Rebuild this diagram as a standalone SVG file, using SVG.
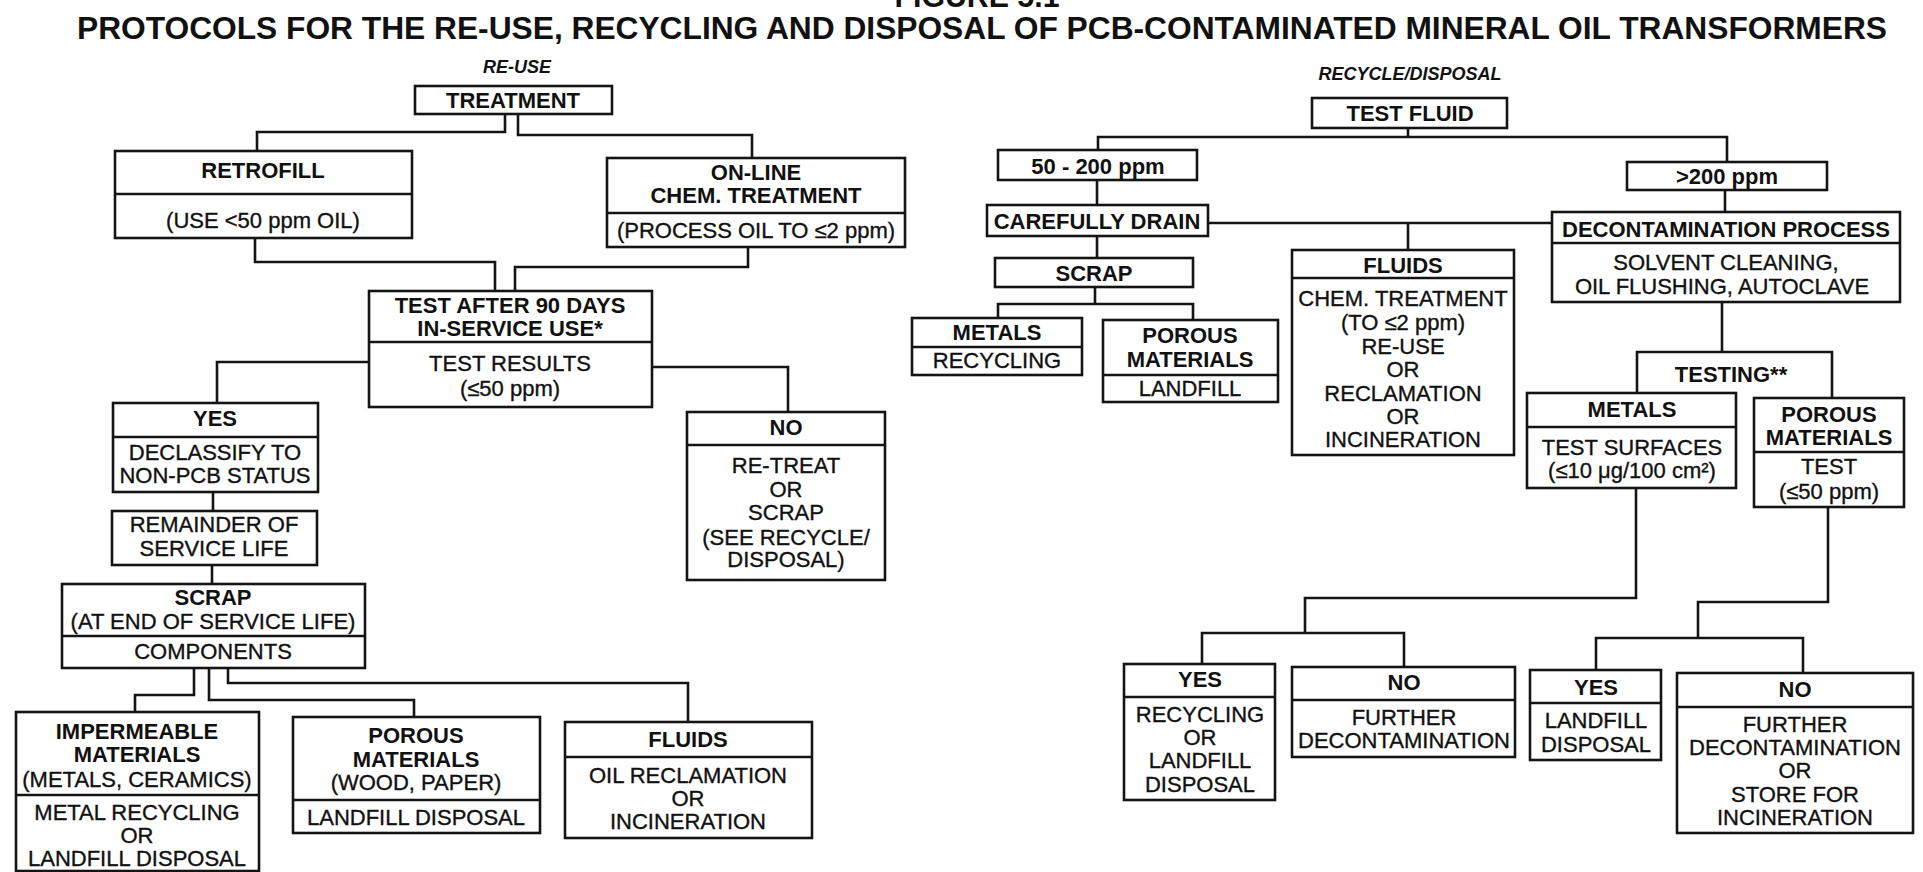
<svg xmlns="http://www.w3.org/2000/svg" width="1923" height="872" viewBox="0 0 1923 872">
<style>
.bx{fill:#fff;stroke:#141414;stroke-width:2.6}
.dv{stroke:#141414;stroke-width:2.6}
.cn{fill:none;stroke:#141414;stroke-width:2.6}
text{font-family:"Liberation Sans",Arial,Helvetica,sans-serif;fill:#111;text-anchor:middle}
.h{font-size:22px;font-weight:bold}
.t{font-size:22px;stroke:#111;stroke-width:0.35}
.lab{font-size:18px;font-weight:bold;font-style:italic}
.ttl{font-size:31px;font-weight:bold}
</style>
<rect width="1923" height="872" fill="#fff"/>
<g id="title">
<text class="ttl" x="977" y="7" textLength="165" lengthAdjust="spacingAndGlyphs">FIGURE 5.1</text>
<text class="ttl" x="982" y="39" textLength="1810" lengthAdjust="spacingAndGlyphs">PROTOCOLS FOR THE RE-USE, RECYCLING AND DISPOSAL OF PCB-CONTAMINATED MINERAL OIL TRANSFORMERS</text>
<text class="lab" x="517" y="73">RE-USE</text>
<text class="lab" x="1410" y="80">RECYCLE/DISPOSAL</text>
</g>
<g id="connectors">
<path class="cn" d="M505,114V132H257V151"/>
<path class="cn" d="M518,114V135H752V158"/>
<path class="cn" d="M255,238V262H495V291"/>
<path class="cn" d="M748,247V267H515V291"/>
<path class="cn" d="M369,362H217V403"/>
<path class="cn" d="M652,367H788V412"/>
<path class="cn" d="M213,492V511"/>
<path class="cn" d="M212,565V584"/>
<path class="cn" d="M194,668V695H135V712"/>
<path class="cn" d="M209,668V700H414V717"/>
<path class="cn" d="M228,668V683H688V722"/>
<path class="cn" d="M1408,128V137"/>
<path class="cn" d="M1098,150V137H1727V162"/>
<path class="cn" d="M1097,180V205"/>
<path class="cn" d="M1725,190V212"/>
<path class="cn" d="M1208,223H1552"/>
<path class="cn" d="M1408,223V250"/>
<path class="cn" d="M1097,236V258"/>
<path class="cn" d="M1095,287V304"/>
<path class="cn" d="M998,318V304H1193V320"/>
<path class="cn" d="M1722,302V352"/>
<path class="cn" d="M1636,488V598H1305V633"/>
<path class="cn" d="M1202,664V633H1404V667"/>
<path class="cn" d="M1828,507V602H1698V638"/>
<path class="cn" d="M1596,670V638H1803V673"/>
</g>
<g id="treatment">
<rect class="bx" x="415" y="86" width="197" height="28"/>
<text class="h" x="513" y="108">TREATMENT</text>
</g>
<g id="retrofill">
<rect class="bx" x="115" y="151" width="297" height="87"/>
<line class="dv" x1="115" y1="194" x2="412" y2="194"/>
<text class="h" x="263" y="178">RETROFILL</text>
<text class="t" x="263" y="228">(USE &lt;50 ppm OIL)</text>
</g>
<g id="online">
<rect class="bx" x="607" y="158" width="298" height="89"/>
<line class="dv" x1="607" y1="213" x2="905" y2="213"/>
<text class="h" x="756" y="180">ON-LINE</text>
<text class="h" x="756" y="203">CHEM. TREATMENT</text>
<text class="t" x="756" y="238">(PROCESS OIL TO ≤2 ppm)</text>
</g>
<g id="testafter">
<rect class="bx" x="369" y="291" width="283" height="116"/>
<line class="dv" x1="369" y1="342" x2="652" y2="342"/>
<text class="h" x="510" y="313">TEST AFTER 90 DAYS</text>
<text class="h" x="510" y="336">IN-SERVICE USE*</text>
<text class="t" x="510" y="371">TEST RESULTS</text>
<text class="t" x="510" y="396">(≤50 ppm)</text>
</g>
<g id="yes-left">
<rect class="bx" x="113" y="403" width="205" height="89"/>
<line class="dv" x1="113" y1="437" x2="318" y2="437"/>
<text class="h" x="215" y="426">YES</text>
<text class="t" x="215" y="460">DECLASSIFY TO</text>
<text class="t" x="215" y="483">NON-PCB STATUS</text>
</g>
<g id="remainder">
<rect class="bx" x="112" y="511" width="205" height="54"/>
<text class="t" x="214" y="532">REMAINDER OF</text>
<text class="t" x="214" y="556">SERVICE LIFE</text>
</g>
<g id="scrap-left">
<rect class="bx" x="62" y="584" width="303" height="84"/>
<line class="dv" x1="62" y1="636" x2="365" y2="636"/>
<text class="h" x="213" y="605">SCRAP</text>
<text class="t" x="213" y="629">(AT END OF SERVICE LIFE)</text>
<text class="t" x="213" y="659">COMPONENTS</text>
</g>
<g id="no-left">
<rect class="bx" x="687" y="412" width="198" height="168"/>
<line class="dv" x1="687" y1="445" x2="885" y2="445"/>
<text class="h" x="786" y="435">NO</text>
<text class="t" x="786" y="473">RE-TREAT</text>
<text class="t" x="786" y="497">OR</text>
<text class="t" x="786" y="520">SCRAP</text>
<text class="t" x="786" y="545">(SEE RECYCLE/</text>
<text class="t" x="786" y="567">DISPOSAL)</text>
</g>
<g id="impermeable">
<rect class="bx" x="16" y="712" width="243" height="159"/>
<line class="dv" x1="16" y1="795" x2="259" y2="795"/>
<text class="h" x="137" y="739">IMPERMEABLE</text>
<text class="h" x="137" y="762">MATERIALS</text>
<text class="t" x="137" y="787">(METALS, CERAMICS)</text>
<text class="t" x="137" y="820">METAL RECYCLING</text>
<text class="t" x="137" y="843">OR</text>
<text class="t" x="137" y="866">LANDFILL DISPOSAL</text>
</g>
<g id="porous-left">
<rect class="bx" x="293" y="717" width="247" height="116"/>
<line class="dv" x1="293" y1="800" x2="540" y2="800"/>
<text class="h" x="416" y="743">POROUS</text>
<text class="h" x="416" y="767">MATERIALS</text>
<text class="t" x="416" y="790">(WOOD, PAPER)</text>
<text class="t" x="416" y="825">LANDFILL DISPOSAL</text>
</g>
<g id="fluids-left">
<rect class="bx" x="565" y="722" width="247" height="116"/>
<line class="dv" x1="565" y1="757" x2="812" y2="757"/>
<text class="h" x="688" y="747">FLUIDS</text>
<text class="t" x="688" y="783">OIL RECLAMATION</text>
<text class="t" x="688" y="806">OR</text>
<text class="t" x="688" y="829">INCINERATION</text>
</g>
<g id="testfluid">
<rect class="bx" x="1312" y="98" width="195" height="30"/>
<text class="h" x="1410" y="121">TEST FLUID</text>
</g>
<g id="r50">
<rect class="bx" x="998" y="150" width="199" height="30"/>
<text class="h" x="1098" y="174">50 - 200 ppm</text>
</g>
<g id="r200">
<rect class="bx" x="1627" y="162" width="200" height="28"/>
<text class="h" x="1727" y="184">&gt;200 ppm</text>
</g>
<g id="drain">
<rect class="bx" x="987" y="205" width="221" height="31"/>
<text class="h" x="1097" y="229">CAREFULLY DRAIN</text>
</g>
<g id="scrap-right">
<rect class="bx" x="995" y="258" width="198" height="29"/>
<text class="h" x="1094" y="281">SCRAP</text>
</g>
<g id="metals-mid">
<rect class="bx" x="912" y="318" width="170" height="57"/>
<line class="dv" x1="912" y1="347" x2="1082" y2="347"/>
<text class="h" x="997" y="340">METALS</text>
<text class="t" x="997" y="368">RECYCLING</text>
</g>
<g id="porous-mid">
<rect class="bx" x="1103" y="320" width="175" height="82"/>
<line class="dv" x1="1103" y1="375" x2="1278" y2="375"/>
<text class="h" x="1190" y="343">POROUS</text>
<text class="h" x="1190" y="367">MATERIALS</text>
<text class="t" x="1190" y="396">LANDFILL</text>
</g>
<g id="fluids-mid">
<rect class="bx" x="1292" y="250" width="222" height="205"/>
<line class="dv" x1="1292" y1="278" x2="1514" y2="278"/>
<text class="h" x="1403" y="273">FLUIDS</text>
<text class="t" x="1403" y="306">CHEM. TREATMENT</text>
<text class="t" x="1403" y="330">(TO ≤2 ppm)</text>
<text class="t" x="1403" y="354">RE-USE</text>
<text class="t" x="1403" y="377">OR</text>
<text class="t" x="1403" y="401">RECLAMATION</text>
<text class="t" x="1403" y="424">OR</text>
<text class="t" x="1403" y="447">INCINERATION</text>
</g>
<g id="decon">
<rect class="bx" x="1552" y="212" width="348" height="90"/>
<line class="dv" x1="1552" y1="243" x2="1900" y2="243"/>
<text class="h" x="1726" y="237">DECONTAMINATION PROCESS</text>
<text class="t" x="1726" y="270">SOLVENT CLEANING,</text>
<text class="t" x="1722" y="294">OIL FLUSHING, AUTOCLAVE</text>
</g>
<g id="testing">
<path class="cn" d="M1637,393V352H1832V398"/>
<text class="h" x="1731" y="382">TESTING**</text>
</g>
<g id="metals-right">
<rect class="bx" x="1527" y="393" width="209" height="95"/>
<line class="dv" x1="1527" y1="427" x2="1736" y2="427"/>
<text class="h" x="1632" y="417">METALS</text>
<text class="t" x="1632" y="455">TEST SURFACES</text>
<text class="t" x="1632" y="478">(≤10 μg/100 cm²)</text>
</g>
<g id="porous-right">
<rect class="bx" x="1754" y="398" width="150" height="109"/>
<line class="dv" x1="1754" y1="452" x2="1904" y2="452"/>
<text class="h" x="1829" y="422">POROUS</text>
<text class="h" x="1829" y="445">MATERIALS</text>
<text class="t" x="1829" y="474">TEST</text>
<text class="t" x="1829" y="499">(≤50 ppm)</text>
</g>
<g id="yes1">
<rect class="bx" x="1124" y="664" width="151" height="136"/>
<line class="dv" x1="1124" y1="697" x2="1275" y2="697"/>
<text class="h" x="1200" y="687">YES</text>
<text class="t" x="1200" y="722">RECYCLING</text>
<text class="t" x="1200" y="745">OR</text>
<text class="t" x="1200" y="768">LANDFILL</text>
<text class="t" x="1200" y="792">DISPOSAL</text>
</g>
<g id="no1">
<rect class="bx" x="1292" y="667" width="223" height="90"/>
<line class="dv" x1="1292" y1="700" x2="1515" y2="700"/>
<text class="h" x="1404" y="690">NO</text>
<text class="t" x="1404" y="725">FURTHER</text>
<text class="t" x="1404" y="748">DECONTAMINATION</text>
</g>
<g id="yes2">
<rect class="bx" x="1530" y="670" width="131" height="90"/>
<line class="dv" x1="1530" y1="703" x2="1661" y2="703"/>
<text class="h" x="1596" y="695">YES</text>
<text class="t" x="1596" y="728">LANDFILL</text>
<text class="t" x="1596" y="752">DISPOSAL</text>
</g>
<g id="no2">
<rect class="bx" x="1677" y="673" width="236" height="160"/>
<line class="dv" x1="1677" y1="707" x2="1913" y2="707"/>
<text class="h" x="1795" y="697">NO</text>
<text class="t" x="1795" y="732">FURTHER</text>
<text class="t" x="1795" y="755">DECONTAMINATION</text>
<text class="t" x="1795" y="778">OR</text>
<text class="t" x="1795" y="802">STORE FOR</text>
<text class="t" x="1795" y="825">INCINERATION</text>
</g>
</svg>
